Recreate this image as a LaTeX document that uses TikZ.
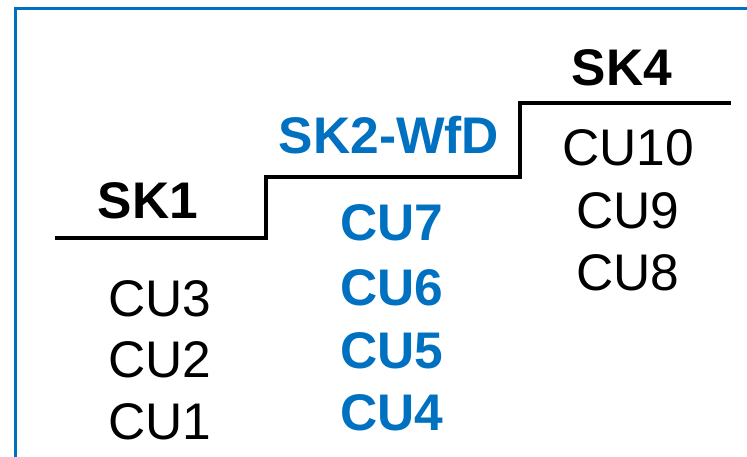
\documentclass[tikz,border=0pt]{standalone}
\usepackage{fontspec}
\setmainfont{Liberation Sans}
\definecolor{msblue}{HTML}{0070C0}
\begin{document}
\begin{tikzpicture}[x=1pt,y=-1pt,
  lbl/.style={anchor=base,inner sep=0pt,font=\fontsize{51.5}{60}\selectfont},
  hdr/.style={lbl,font=\fontsize{51.5}{60}\selectfont\bfseries},
  bluelbl/.style={lbl,font=\fontsize{51.5}{60}\selectfont\bfseries,text=msblue},
  stair/.style={line width=4pt,black},
  frame/.style={line width=3.6pt,msblue}]
\useasboundingbox (0,0) rectangle (747,456);
% frame
\draw[frame] (15.5,470) -- (15.5,8.5) -- (760,8.5);
% staircase
\draw[stair] (55,238) -- (266,238) -- (266,177) -- (520,177) -- (520,103) -- (731,103);
% headers
\node[hdr] (sk1) at (148,218) {SK1};
\node[bluelbl] (sk2) at (389,153) {SK2-WfD};
\node[hdr] (sk4) at (622,85) {SK4};
% SK1 column
\node[lbl] (cu3) at (160,316) {CU3};
\node[lbl] (cu2) at (160,377) {CU2};
\node[lbl] (cu1) at (160,439) {CU1};
% SK2 column
\node[bluelbl] (cu7) at (392,240) {CU7};
\node[bluelbl] (cu6) at (392,305) {CU6};
\node[bluelbl] (cu5) at (392,368) {CU5};
\node[bluelbl] (cu4) at (392,430) {CU4};
% SK4 column
\node[lbl] (cu10) at (628,165) {CU10};
\node[lbl] (cu9) at (628,228) {CU9};
\node[lbl] (cu8) at (628,290) {CU8};
\end{tikzpicture}
\end{document}
